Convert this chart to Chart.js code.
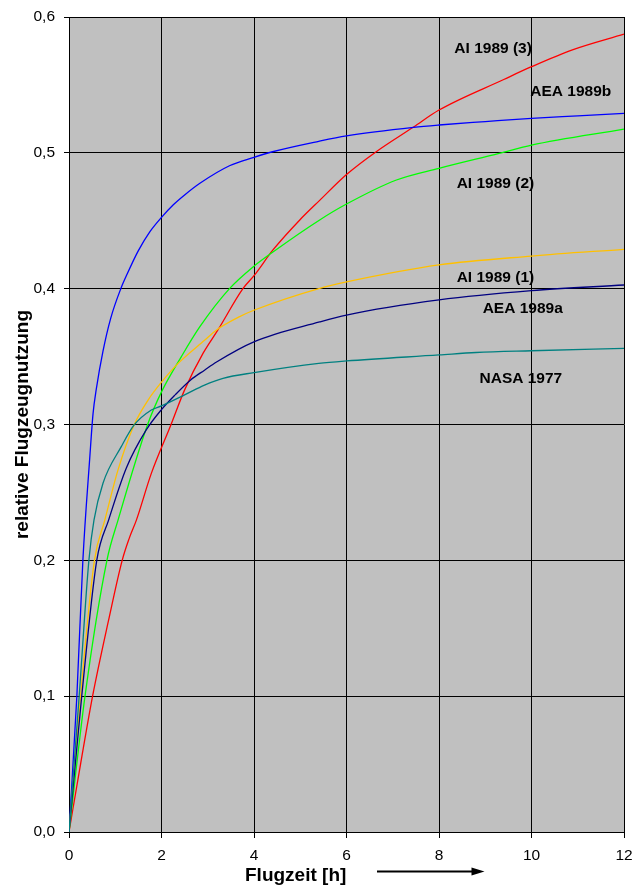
<!DOCTYPE html>
<html>
<head>
<meta charset="utf-8">
<script src="https://cdn.jsdelivr.net/npm/chart.js@4.4.0/dist/chart.umd.min.js"></script>
<style>
  html, body { margin: 0; padding: 0; background: #fff; }
</style>
</head>
<body>
<canvas id="chart" width="635" height="885"></canvas>
<script>
// Flight time [h] and relative aircraft utilisation per study
const aea1989bT = [0, 0.17, 0.3, 0.45, 0.52, 0.59, 0.735, 0.9, 1.12, 1.26, 1.5, 1.75, 2.0, 2.25, 2.5, 2.83, 3.47, 4.0, 4.4, 5.4, 6.0, 7.45, 8.0, 9.0, 10.0, 11.0, 12.0];
const aea1989bY = [0, 0.1, 0.2, 0.276, 0.308, 0.326, 0.354, 0.378, 0.4, 0.411, 0.428, 0.442, 0.4525, 0.4616, 0.469, 0.4776, 0.4905, 0.4967, 0.5008, 0.5085, 0.5125, 0.5188, 0.5205, 0.523, 0.5254, 0.5272, 0.529];

const nasa1977T = [0, 0.22, 0.43, 0.54, 0.735, 1.13, 1.405, 1.78, 2.0, 2.5, 2.93, 3.33, 4.0, 5.4, 6.0, 8.0, 8.8, 10.0, 12.0];
const nasa1977Y = [0, 0.1, 0.2, 0.2296, 0.2568, 0.2837, 0.2995, 0.3107, 0.3137, 0.3218, 0.329, 0.334, 0.3382, 0.345, 0.3468, 0.3512, 0.353, 0.3543, 0.3561];

const ai1989_1T = [0, 0.25, 0.55, 0.774, 1.06, 1.405, 1.71, 2.01, 2.36, 2.93, 3.19, 3.69, 4.01, 5.42, 6.0, 8.0, 10.0, 12.0];
const ai1989_1Y = [0, 0.1, 0.2, 0.2296, 0.2666, 0.2995, 0.318, 0.3316, 0.345, 0.362, 0.3696, 0.3794, 0.3843, 0.4003, 0.405, 0.4175, 0.424, 0.429];

const aea1989aT = [0, 0.275, 0.6, 0.86, 1.24, 1.67, 2.0, 2.3, 2.63, 2.93, 3.19, 4.01, 5.42, 6.0, 8.0, 10.0, 12.0];
const aea1989aY = [0, 0.1, 0.2, 0.23, 0.268, 0.296, 0.311, 0.322, 0.3328, 0.34, 0.346, 0.361, 0.3755, 0.3806, 0.3917, 0.3985, 0.4027];

const ai1989_2T = [0, 0.346, 0.82, 1.06, 1.7, 2.0, 2.43, 2.83, 3.47, 3.98, 4.41, 5.42, 6.0, 7.08, 8.0, 9.3, 10.0, 12.0];
const ai1989_2Y = [0, 0.1, 0.2, 0.2296, 0.3, 0.324, 0.35, 0.372, 0.4, 0.416, 0.427, 0.4506, 0.4623, 0.48, 0.4886, 0.4996, 0.5057, 0.5175];

const ai1989_3T = [0, 0.25, 0.51, 0.85, 1.15, 1.3, 1.457, 1.78, 2.2, 2.5, 2.9, 3.22, 3.76, 4.01, 4.41, 4.99, 5.42, 6.0, 6.65, 7.45, 8.0, 9.4, 10.0, 10.9, 12.0];
const ai1989_3Y = [0, 0.05, 0.1, 0.155, 0.2, 0.216, 0.2296, 0.264, 0.2995, 0.3255, 0.3525, 0.3696, 0.4, 0.41, 0.4285, 0.4506, 0.465, 0.484, 0.501, 0.519, 0.5315, 0.554, 0.5634, 0.576, 0.5874];

// Series labels written inside the plot, anchored in data units
const labelTexts = ["AI 1989 (3)", "AEA 1989b", "AI 1989 (2)", "AI 1989 (1)", "AEA 1989a", "NASA 1977"];
const labelAtT = [9.17, 10.85, 9.22, 9.22, 9.81, 9.77];
const labelAtY = [0.577, 0.545, 0.4776, 0.4077, 0.385, 0.334];

const xTickStep = 2;
const yTickStep = 0.1;

const FONT = "'Liberation Sans', Arial, sans-serif";

function toPoints(t, y) {
  return t.map((v, i) => ({ x: v, y: y[i] }));
}

const plotBackground = {
  id: "plotBackground",
  beforeDraw(chart) {
    const { ctx, chartArea: a } = chart;
    ctx.save();
    ctx.fillStyle = "#c0c0c0";
    ctx.fillRect(a.left, a.top, a.right - a.left, a.bottom - a.top);
    ctx.restore();
  },
};

const annotations = {
  id: "annotations",
  afterDraw(chart) {
    const ctx = chart.ctx;
    const xs = chart.scales.x;
    const ys = chart.scales.y;
    ctx.save();
    ctx.fillStyle = "#000";
    ctx.font = "bold 15.5px " + FONT;
    ctx.textAlign = "center";
    ctx.textBaseline = "middle";
    labelTexts.forEach((txt, i) => {
      ctx.fillText(txt, xs.getPixelForValue(labelAtT[i]), ys.getPixelForValue(labelAtY[i]));
    });

    // x axis title, sits left of centre with an arrow after it
    ctx.font = "bold 19px " + FONT;
    ctx.textAlign = "left";
    ctx.fillText("Flugzeit [h]", 245, 876);

    ctx.strokeStyle = "#000";
    ctx.lineWidth = 1.8;
    ctx.beginPath();
    ctx.moveTo(377, 871.5);
    ctx.lineTo(474, 871.5);
    ctx.stroke();
    ctx.beginPath();
    ctx.moveTo(484.5, 871.5);
    ctx.lineTo(471.5, 867.5);
    ctx.lineTo(471.5, 875.5);
    ctx.closePath();
    ctx.fill();
    ctx.restore();
  },
};

const line = (data, color) => ({
  data,
  borderColor: color,
  backgroundColor: color,
  borderWidth: 1.3,
  pointRadius: 0,
  fill: false,
  cubicInterpolationMode: "monotone",
});

new Chart(document.getElementById("chart"), {
  type: "line",
  data: {
    datasets: [
      line(toPoints(nasa1977T, nasa1977Y), "#008080"),
      line(toPoints(aea1989aT, aea1989aY), "#000080"),
      line(toPoints(ai1989_1T, ai1989_1Y), "#ffc000"),
      line(toPoints(ai1989_2T, ai1989_2Y), "#00ff00"),
      line(toPoints(aea1989bT, aea1989bY), "#0000ff"),
      line(toPoints(ai1989_3T, ai1989_3Y), "#ff0000"),
    ],
  },
  options: {
    responsive: false,
    animation: false,
    layout: { padding: { left: 0, right: 11, top: 17, bottom: 0 } },
    plugins: { legend: { display: false }, tooltip: { enabled: false } },
    scales: {
      x: {
        type: "linear",
        min: 0,
        max: 12,
        ticks: { stepSize: xTickStep, color: "#000", font: { family: FONT, size: 15.5 }, padding: 8, maxRotation: 0 },
        grid: { color: "#000", lineWidth: 1, tickLength: 6 },
        border: { color: "#000", width: 1 },
        afterFit(s) {
          s.height = 53;
          s.paddingLeft = 0;
          s.paddingRight = 0;
        },
      },
      y: {
        min: 0,
        max: 0.6,
        ticks: {
          stepSize: yTickStep,
          color: "#000",
          font: { family: FONT, size: 15.5 },
          padding: 9,
          callback: (v) => v.toFixed(1).replace(".", ","),
        },
        grid: { color: "#000", lineWidth: 1, tickLength: 5 },
        border: { color: "#000", width: 1 },
        title: {
          display: true,
          text: "relative Flugzeugnutzung",
          color: "#000",
          font: { family: FONT, size: 19, weight: "bold" },
          padding: { top: 11, bottom: 0 },
        },
        afterFit(s) {
          s.width = 69;
          s.paddingTop = 0;
          s.paddingBottom = 0;
        },
      },
    },
  },
  plugins: [plotBackground, annotations],
});
</script>
</body>
</html>
